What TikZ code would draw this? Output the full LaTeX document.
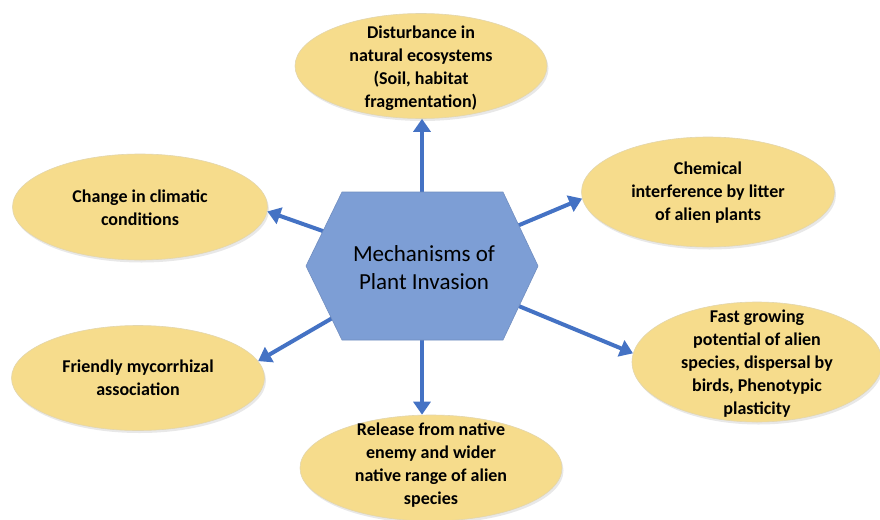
\documentclass[tikz,border=0pt]{standalone}
\usepackage{fontspec}
\setmainfont{Carlito}
\usetikzlibrary{shapes.geometric,calc,shadows,arrows.meta}

\definecolor{ellfill}{RGB}{246,220,140}
\definecolor{hexfill}{RGB}{125,158,213}
\definecolor{arrblue}{RGB}{68,114,196}

\tikzset{
  cause/.style={ellipse, fill=ellfill, draw=ellfill!85!black!60, line width=0.6pt,
    inner sep=0pt, minimum width=#1,
    drop shadow={opacity=0.18, shadow xshift=1.5pt, shadow yshift=-2.5pt}},
  causetext/.style={align=center, font=\fontsize{18}{23}\selectfont\bfseries, text=black},
  spoke/.style={draw=arrblue, line width=4pt,
    -{Triangle[length=13pt,width=17pt]}},
}

\begin{document}
\begin{tikzpicture}[x=1pt,y=-1pt]
\useasboundingbox (0,0) rectangle (880,519);
\fill[white] (0,0) rectangle (880,519);

% outer causes
\node[cause=252pt, minimum height=105pt] (dist) at (421,66) {};
\node[causetext] (distT) at (421,68) {Disturbance in\\natural ecosystems\\(Soil, habitat\\fragmentation)};

\node[cause=255pt, minimum height=106pt] (clim) at (140,207) {};
\node[causetext] (climT) at (140,208) {Change in climatic\\conditions};

\node[cause=253pt, minimum height=110pt] (chem) at (708,192) {};
\node[causetext] (chemT) at (708,193) {Chemical\\interference by litter\\of alien plants};

\node[cause=253pt, minimum height=105pt] (myco) at (138,378) {};
\node[causetext] (mycoT) at (138,378) {Friendly mycorrhizal\\association};

\node[cause=250pt, minimum height=120pt] (fast) at (757,362) {};
\node[causetext] (fastT) at (757,364) {Fast growing\\potential of alien\\species, dispersal by\\birds, Phenotypic\\plasticity};

\node[cause=262pt, minimum height=106pt] (rel) at (431,468) {};
\node[causetext] (relT) at (431,465) {Release from native\\enemy and wider\\native range of alien\\species};

% central hub
\coordinate (hub) at (422,266);

% spokes, drawn first so the hexagon covers their roots
\draw[spoke] (hub) -- (dist.south -| hub);
\draw[spoke] (hub) -- (clim.-2);
\draw[spoke] (hub) -- (chem.183);
\draw[spoke] (hub) -- (myco.8);
\draw[spoke] (hub) -- (fast.176);
\draw[spoke] (hub) -- (rel.north -| hub);

% hexagon
\fill[hexfill, draw=hexfill!90!black, line width=0.6pt]
  ($(hub)+(-80,-74)$) -- ($(hub)+(81,-74)$) -- ($(hub)+(116,0)$) --
  ($(hub)+(81,74)$) -- ($(hub)+(-80,74)$) -- ($(hub)+(-116,0)$) -- cycle;
\node[align=center, font=\fontsize{23}{28}\selectfont, text=black] (hubT) at (424,268)
  {Mechanisms of\\Plant Invasion};
\end{tikzpicture}
\end{document}
